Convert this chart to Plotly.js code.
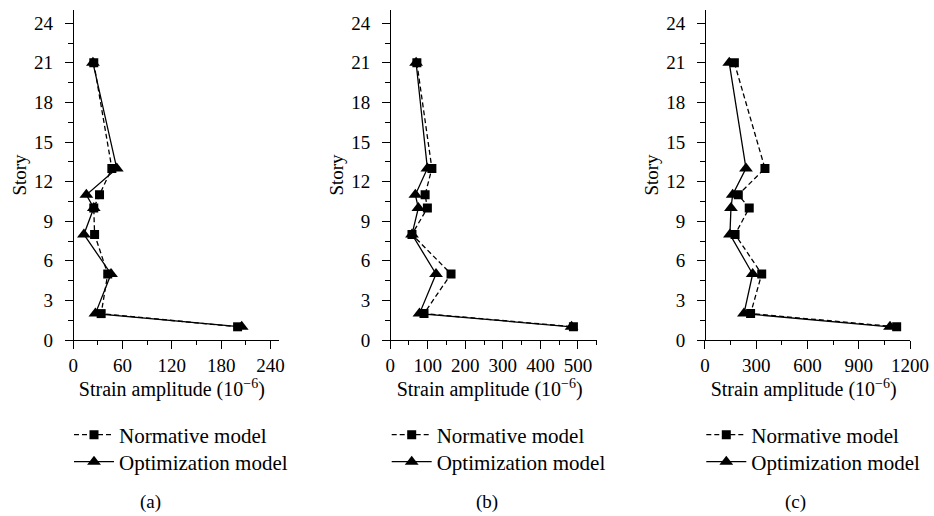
<!DOCTYPE html>
<html>
<head>
<meta charset="utf-8">
<script src="https://cdn.plot.ly/plotly-3.0.1.min.js"></script>
<style>html,body{margin:0;padding:0;background:#fff;}#chart{width:934px;height:516px;}</style>
</head>
<body>
<div id="chart"></div>
<script>
// Data
const stories = [21, 13, 11, 10, 8, 5, 2, 1];
const normA = [25, 47, 32, 25, 26, 42, 34, 200];
const optA  = [24, 53, 16, 25, 13, 46, 27, 205];
const normB = [71, 111, 93, 99, 58, 162, 90, 488];
const optB  = [69, 99, 67, 75, 58, 122, 78, 483];
const normC = [172, 351, 195, 259, 176, 332, 267, 1122];
const optC  = [142, 240, 162, 152, 146, 279, 228, 1083];
const seriesNames = ["Normative model", "Optimization model"];
const xTicksA = [0, 60, 120, 180, 240];
const xTicksB = [0, 100, 200, 300, 400, 500];
const xTicksC = [0, 300, 600, 900, 1200];
const yTicks = [0, 3, 6, 9, 12, 15, 18, 21, 24];
const captions = ["(a)", "(b)", "(c)"];
const xTitle = "Strain amplitude (10<sup>−6</sup>)";
const yTitle = "Story";

const W = 934, H = 516;
const F = "Liberation Serif";
const fx = p => p / W;
const fy = p => (H - p) / H;

const panels = [
  {norm: normA, opt: optA, ticks: xTicksA, range: [-10, 250], left: 65, right: 278.7, zeroPx: 72.7, minor: 30},
  {norm: normB, opt: optB, ticks: xTicksB, range: [-20, 550], left: 382.7, right: 596.7, zeroPx: 390, minor: 50},
  {norm: normC, opt: optC, ticks: xTicksC, range: [-45, 1200], left: 697.3, right: 910, zeroPx: 705, minor: 150}
];

const traces = [];
const layout = {
  width: W, height: H,
  margin: {l: 0, r: 0, t: 0, b: 0, autoexpand: false},
  paper_bgcolor: "#fff", plot_bgcolor: "rgba(0,0,0,0)",
  font: {family: F, size: 19, color: "#000"},
  showlegend: true,
  annotations: []
};

panels.forEach((p, i) => {
  const sfx = i === 0 ? "" : String(i + 1);
  const xa = "x" + sfx, ya = "y" + sfx;
  const lgN = "legend" + (i === 0 ? "" : String(2 * i + 1));
  const lgO = "legend" + String(2 * i + 2);
  traces.push({
    x: p.norm, y: stories, xaxis: xa, yaxis: ya, name: seriesNames[0], legend: lgN,
    type: "scatter", mode: "lines+markers",
    line: {color: "#000", width: 1.3, dash: "5px,3px"},
    marker: {symbol: "square", size: 9, color: "#000"}
  });
  traces.push({
    x: p.opt, y: stories, xaxis: xa, yaxis: ya, name: seriesNames[1], legend: lgO,
    type: "scatter", mode: "lines+markers",
    line: {color: "#000", width: 1.3},
    marker: {symbol: "triangle-up", size: 12, color: "#000"}
  });
  layout["xaxis" + sfx] = {
    domain: [fx(p.left), fx(p.right)], range: p.range, anchor: ya,
    showline: true, linecolor: "#000", linewidth: 1,
    ticks: "outside", ticklen: 8, tickwidth: 1, tickcolor: "#000",
    tickmode: "array", tickvals: p.ticks, ticklabelstandoff: 0,
    minor: {dtick: p.minor, tick0: 0, ticks: "outside", ticklen: 4, tickwidth: 1, tickcolor: "#000"},
    showgrid: false, zeroline: false,
    tickfont: {family: F, size: 19},
    title: {text: xTitle, font: {family: F, size: 20}, standoff: 4}
  };
  layout["yaxis" + sfx] = {
    domain: [fy(340), fy(10)], range: [0, 25], anchor: "free", position: fx(p.zeroPx),
    showline: true, linecolor: "#000", linewidth: 1,
    ticks: "outside", ticklen: 8, tickwidth: 1, tickcolor: "#000",
    tickmode: "array", tickvals: yTicks, ticklabelstandoff: 8,
    minor: {dtick: 1.5, tick0: 0, ticks: "outside", ticklen: 5, tickwidth: 1, tickcolor: "#000"},
    showgrid: false, zeroline: false,
    tickfont: {family: F, size: 19},
    title: {text: yTitle, font: {family: F, size: 19}, standoff: 1}
  };
  [[lgN, 435], [lgO, 462]].forEach(([id, yc]) => {
    layout[id] = {
      x: fx(p.left + 4), y: fy(yc), xanchor: "left", yanchor: "middle",
      bgcolor: "rgba(0,0,0,0)", borderwidth: 0,
      font: {family: F, size: 21, color: "#000"},
      tracegroupgap: 0, itemwidth: 40
    };
  });
  layout.annotations.push({
    text: captions[i], xref: "paper", yref: "paper",
    x: fx([150, 487, 795][i]), y: fy(502), xanchor: "center", yanchor: "middle",
    showarrow: false, font: {family: F, size: 19, color: "#000"}
  });
});

Plotly.newPlot("chart", traces, layout, {displayModeBar: false, staticPlot: true});
</script>
</body>
</html>
